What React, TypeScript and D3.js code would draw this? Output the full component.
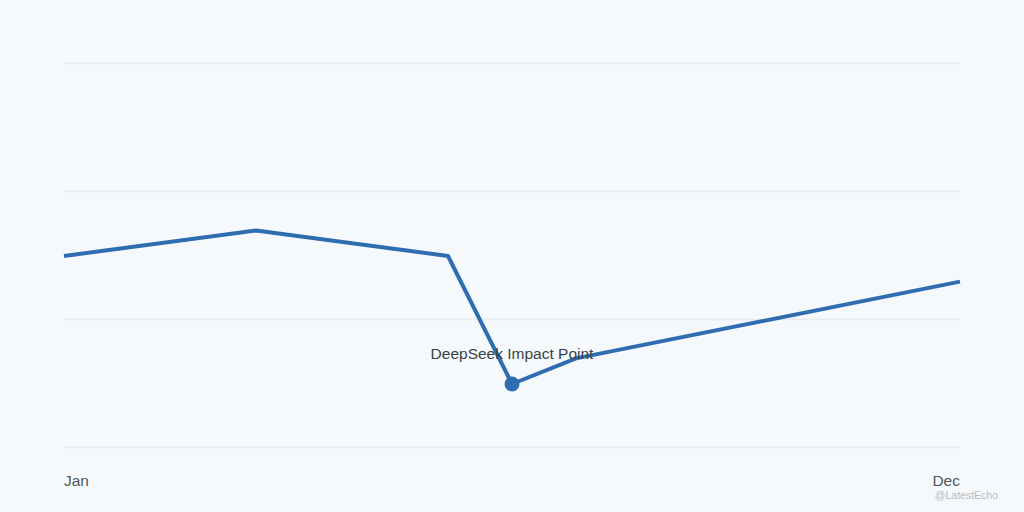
import React, { useRef, useEffect } from 'react';
import * as d3 from 'd3';

// step index along the year (0 = Jan, 14 = Dec)
const steps = [0, 3, 6, 7, 8, 14];
const values = [75, 85, 75, 25, 35, 65];
const gridValues = [0, 50, 100, 150];
const xTickSteps = [0, 14];
const xTickLabels = ['Jan', 'Dec'];
const impactIndex = 3;
const impactLabel = 'DeepSeek Impact Point';

const App: React.FC = () => {
    const ref = useRef<SVGSVGElement>(null);

    useEffect(() => {
        if (!ref.current) return;
        const svg = d3.select(ref.current);
        svg.selectAll('*').remove();

        const width = 1024;
        const height = 512;
        const margin = { top: 64, right: 64, bottom: 64, left: 64 };

        svg.append('rect')
            .attr('width', width)
            .attr('height', height)
            .attr('fill', '#f6f9fb');

        const x = d3.scaleLinear()
            .domain([0, 14])
            .range([margin.left, width - margin.right]);

        const y = d3.scaleLinear()
            .domain([0, 150])
            .range([height - margin.bottom, margin.top]);

        // gridlines
        svg.append('g')
            .selectAll('line')
            .data(gridValues)
            .enter()
            .append('line')
            .attr('x1', x(0))
            .attr('x2', x(14))
            .attr('y1', d => y(d) - 0.5)
            .attr('y2', d => y(d) - 0.5)
            .attr('stroke', '#e6ebf0')
            .attr('stroke-width', 1.5);

        const data = steps.map((s, i) => ({ s, v: values[i] }));

        const line = d3.line<{ s: number; v: number }>()
            .x(d => x(d.s))
            .y(d => y(d.v));

        svg.append('path')
            .datum(data)
            .attr('fill', 'none')
            .attr('stroke', '#2e6daf')
            .attr('stroke-width', 4)
            .attr('stroke-linejoin', 'round')
            .attr('d', line);

        const p = data[impactIndex];
        svg.append('circle')
            .attr('cx', x(p.s))
            .attr('cy', y(p.v))
            .attr('r', 7.5)
            .attr('fill', '#2e6daf');

        svg.append('text')
            .attr('x', x(p.s))
            .attr('y', y(p.v) - 25)
            .attr('text-anchor', 'middle')
            .attr('font-family', 'Liberation Sans, Arial, sans-serif')
            .attr('font-size', 15.5)
            .attr('fill', '#3a3f45')
            .text(impactLabel);

        // x labels
        svg.append('g')
            .selectAll('text')
            .data(xTickSteps)
            .enter()
            .append('text')
            .attr('x', d => x(d))
            .attr('y', 486)
            .attr('text-anchor', (d, i) => (i === 0 ? 'start' : 'end'))
            .attr('font-family', 'Liberation Sans, Arial, sans-serif')
            .attr('font-size', 15.5)
            .attr('fill', '#52575d')
            .text((d, i) => xTickLabels[i]);

        svg.append('text')
            .attr('x', 998)
            .attr('y', 499)
            .attr('text-anchor', 'end')
            .attr('font-family', 'Liberation Sans, Arial, sans-serif')
            .attr('font-size', 10.5)
            .attr('fill', '#b4b9be')
            .text('@LatestEcho');
    }, []);

    return (
        <svg
            ref={ref}
            width={1024}
            height={512}
            style={{ position: 'absolute', left: 0, top: 0, display: 'block' }}
        />
    );
};

export default App;
